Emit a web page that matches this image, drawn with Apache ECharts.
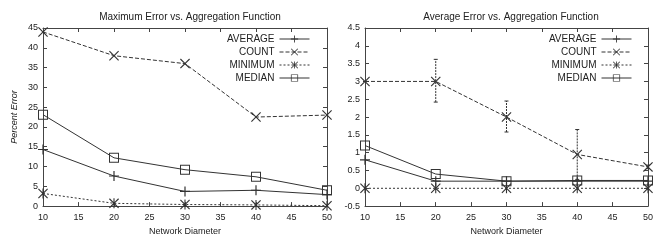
<!DOCTYPE html>
<html>
<head>
<meta charset="utf-8">
<title>Error vs. Aggregation Function</title>
<script src="https://cdn.jsdelivr.net/npm/echarts@6/dist/echarts.min.js"></script>
<style>
  html, body { margin: 0; padding: 0; background: #fff; }
  #chart { width: 656px; height: 241px; }
</style>
</head>
<body>
<div id="chart"></div>
<script>
// network diameters (x)
var diameters = [10, 20, 30, 40, 50];
var seriesNames = ['AVERAGE', 'COUNT', 'MINIMUM', 'MEDIAN'];

// maximum error (left panel)
var maxAverage = [14.3, 7.6, 3.7, 4.0, 2.9];
var maxCount   = [44, 38, 36, 22.5, 23];
var maxMinimum = [3.2, 0.7, 0.4, 0.3, 0.1];
var maxMedian  = [23.1, 12.2, 9.2, 7.4, 4.0];

// average error (right panel)
var avgAverage = [0.8, 0.2, 0.2, 0.2, 0.2];
var avgCount   = [3.0, 3.0, 2.0, 0.95, 0.6];
var avgMinimum = [0, 0, 0, 0, 0];
var avgMedian  = [1.2, 0.4, 0.2, 0.22, 0.22];
// error bars on COUNT (right panel)
var countLow  = [3.0, 2.42, 1.58, 0.25, 0.55];
var countHigh = [3.0, 3.62, 2.45, 1.65, 0.65];

var ink = '#333';
var plusSym  = 'path://M4.4,0H5.6V4.4H10V5.6H5.6V10H4.4V5.6H0V4.4H4.4Z';
var crossSym = 'path://M0,0.8L0.8,0L5,4.2L9.2,0L10,0.8L5.8,5L10,9.2L9.2,10L5,5.8L0.8,10L0,9.2L4.2,5Z';
var starSym  = 'path://M0,0.8L0.8,0L5,4.2L9.2,0L10,0.8L5.8,5L10,9.2L9.2,10L5,5.8L0.8,10L0,9.2L4.2,5Z' +
               'M4.45,0H5.55V10H4.45Z';
var boxSym   = 'path://M0,0H10V10H0Z M1,1V9H9V1Z';

var styles = {
  AVERAGE: { symbol: plusSym,  type: 'solid', size: 10 },
  COUNT:   { symbol: crossSym, type: [4, 2],  size: 10 },
  MINIMUM: { symbol: starSym,  type: [2, 2],  size: 10 },
  MEDIAN:  { symbol: boxSym,   type: 'solid', size: 10 }
};

function pairs(vals) {
  return diameters.map(function (d, i) { return [d, vals[i]]; });
}

function lineSeries(name, vals, idx) {
  var s = styles[name];
  return {
    name: name,
    type: 'line',
    xAxisIndex: idx,
    yAxisIndex: idx,
    data: pairs(vals),
    symbol: s.symbol,
    symbolSize: s.size,
    showSymbol: true,
    showAllSymbol: true,
    color: ink,
    lineStyle: { color: ink, width: 1, type: s.type },
    itemStyle: { color: ink },
    emphasis: { disabled: true },
    z: 3
  };
}

var axisText = { color: '#222', fontSize: 9, fontFamily: 'Liberation Sans' };

function xAxes(grid) {
  var base = {
    type: 'value', gridIndex: grid, min: 10, max: 50, interval: 5,
    axisLine: { show: true, onZero: false, lineStyle: { color: '#444', width: 1 } },
    axisTick: { show: true, inside: true, length: 4, lineStyle: { color: '#444' } },
    splitLine: { show: false }
  };
  return [
    Object.assign({}, base, {
      position: 'bottom',
      axisLabel: Object.assign({ margin: 7 }, axisText),
      name: 'Network Diameter', nameLocation: 'middle', nameGap: 19,
      nameTextStyle: axisText
    }),
    Object.assign({}, base, { position: 'top', axisLabel: { show: false } })
  ];
}

function yAxes(grid, min, max, interval, title) {
  var base = {
    type: 'value', gridIndex: grid, min: min, max: max, interval: interval,
    axisLine: { show: true, onZero: false, lineStyle: { color: '#444', width: 1 } },
    axisTick: { show: true, inside: true, length: 4, lineStyle: { color: '#444' } },
    splitLine: { show: false }
  };
  var left = Object.assign({}, base, {
    position: 'left',
    axisLabel: Object.assign({ margin: 5 }, axisText)
  });
  if (title) {
    left.name = title;
    left.nameLocation = 'middle';
    left.nameGap = 24;
    left.nameTextStyle = Object.assign({ fontStyle: 'italic' }, axisText);
  }
  return [left, Object.assign({}, base, { position: 'right', axisLabel: { show: false } })];
}

var xa = xAxes(0).concat(xAxes(1));
var ya = yAxes(0, 0, 45, 5, 'Percent Error').concat(yAxes(1, -0.5, 4.5, 0.5, null));

var series = [
  lineSeries('AVERAGE', maxAverage, 0),
  lineSeries('COUNT', maxCount, 0),
  lineSeries('MINIMUM', maxMinimum, 0),
  lineSeries('MEDIAN', maxMedian, 0),
  lineSeries('AVERAGE', avgAverage, 2),
  lineSeries('COUNT', avgCount, 2),
  lineSeries('MINIMUM', avgMinimum, 2),
  lineSeries('MEDIAN', avgMedian, 2),
  {
    type: 'custom',
    name: 'COUNT range',
    xAxisIndex: 2,
    yAxisIndex: 2,
    data: diameters.map(function (d, i) { return [d, countLow[i], countHigh[i]]; }),
    renderItem: function (params, api) {
      var lo = api.coord([api.value(0), api.value(1)]);
      var hi = api.coord([api.value(0), api.value(2)]);
      var st = { stroke: ink, lineWidth: 1, lineDash: [2, 1] };
      return {
        type: 'group',
        children: [
          { type: 'line', shape: { x1: lo[0], y1: lo[1], x2: hi[0], y2: hi[1] }, style: st },
          { type: 'line', shape: { x1: lo[0] - 2, y1: lo[1], x2: lo[0] + 2, y2: lo[1] }, style: { stroke: ink, lineWidth: 1 } },
          { type: 'line', shape: { x1: hi[0] - 2, y1: hi[1], x2: hi[0] + 2, y2: hi[1] }, style: { stroke: ink, lineWidth: 1 } }
        ]
      };
    },
    silent: true,
    z: 2
  }
];

function legendAt(right) {
  return {
    data: seriesNames,
    orient: 'vertical',
    right: right,
    top: 29,
    align: 'right',
    itemWidth: 30,
    itemHeight: 9,
    itemGap: 3,
    selectedMode: false,
    lineStyle: { width: 1 },
    textStyle: { color: '#222', fontSize: 10, fontFamily: 'Liberation Sans' }
  };
}

var chart = echarts.init(document.getElementById('chart'), null, { renderer: 'canvas' });
chart.setOption({
  backgroundColor: '#fff',
  animation: false,
  title: [
    { text: 'Maximum Error vs. Aggregation Function', left: 185, top: 7, textAlign: 'center',
      textStyle: { color: '#222', fontSize: 10, fontWeight: 'normal', fontFamily: 'Liberation Sans' } },
    { text: 'Average Error vs. Aggregation Function', left: 506, top: 7, textAlign: 'center',
      textStyle: { color: '#222', fontSize: 10, fontWeight: 'normal', fontFamily: 'Liberation Sans' } }
  ],
  legend: [legendAt(341), legendAt(19)],
  grid: [
    { left: 43, right: 329, top: 28, bottom: 32 },
    { left: 365, right: 8, top: 28, bottom: 32 }
  ],
  xAxis: xa,
  yAxis: ya,
  series: series
});
</script>
</body>
</html>
